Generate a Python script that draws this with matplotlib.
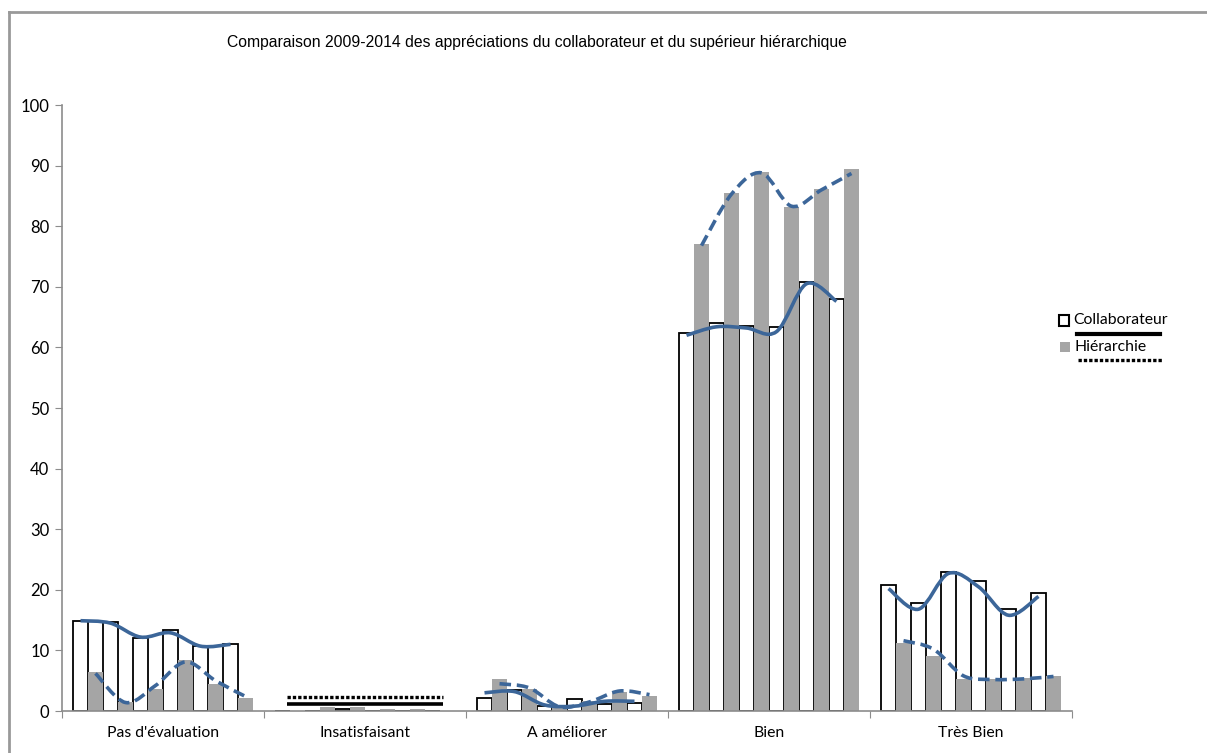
import matplotlib
matplotlib.use("Agg")
import matplotlib.pyplot as plt
from matplotlib.path import Path
from matplotlib.patches import PathPatch, Rectangle
from matplotlib.lines import Line2D
import numpy as np

# categories and years
categories = ["Pas d'évaluation", "Insatisfaisant", "A améliorer", "Bien", "Très Bien"]
years = [2009, 2010, 2011, 2012, 2013, 2014]

# bar values (%), one list per category, years 2009..2014
collab_pas = [14.8, 14.7, 12.0, 13.4, 10.8, 11.1]
hier_pas = [6.4, 1.5, 3.7, 8.4, 4.4, 2.2]
collab_insat = [0.0, 0.0, 0.3, 0.0, 0.0, 0.0]
hier_insat = [0.0, 0.7, 0.7, 0.25, 0.25, 0.0]
collab_amel = [2.1, 3.4, 0.9, 1.9, 1.1, 1.3]
hier_amel = [5.2, 3.7, 1.0, 1.6, 3.2, 2.5]
collab_bien = [62.4, 64.0, 63.6, 63.3, 70.8, 68.0]
hier_bien = [77.0, 85.5, 88.9, 83.2, 86.2, 89.5]
collab_tb = [20.8, 17.9, 23.0, 21.5, 16.8, 19.4]
hier_tb = [11.2, 9.0, 5.3, 5.3, 5.5, 5.8]

# smoothed curve values (as drawn over the bars)
line_collab_pas = [14.9, 14.5, 12.2, 12.9, 10.7, 11.0]
line_hier_pas = [6.2, 1.4, 4.2, 8.1, 5.0, 2.4]
line_collab_amel = [3.0, 3.2, 1.0, 0.8, 1.6, 1.6]
line_hier_amel = [4.5, 3.8, 0.7, 1.5, 3.3, 2.7]
line_collab_bien = [62.0, 63.4, 63.2, 62.6, 70.5, 67.6]
line_hier_bien = [76.8, 85.3, 88.8, 83.3, 86.0, 88.7]
line_collab_tb = [20.2, 16.8, 22.7, 20.5, 15.8, 18.9]
line_hier_tb = [11.6, 10.2, 5.8, 5.2, 5.3, 5.7]
# flat black lines on "Insatisfaisant"
insat_collab_line = 1.1
insat_hier_line = 2.3

collab = [collab_pas, collab_insat, collab_amel, collab_bien, collab_tb]
hier = [hier_pas, hier_insat, hier_amel, hier_bien, hier_tb]
lines_c = [line_collab_pas, None, line_collab_amel, line_collab_bien, line_collab_tb]
lines_h = [line_hier_pas, None, line_hier_amel, line_hier_bien, line_hier_tb]

BLUE = "#3C6699"
GRAY = "#A5A5A5"
AXC = "#8C8C8C"

fig = plt.figure(figsize=(12.07, 7.53), dpi=100)
ax = fig.add_axes([62 / 1207, 1 - 711 / 753, 1010 / 1207, 606 / 753])

n = len(years)
off = 0.0545
bw = (1 - 2 * off) / (2 * n)


def smooth(x, y):
    # Catmull-Rom as cubic bezier (Excel-like smoothed line)
    pts = np.column_stack([x, y])
    verts = [pts[0]]
    codes = [Path.MOVETO]
    for i in range(len(pts) - 1):
        p0 = pts[max(i - 1, 0)]
        p1 = pts[i]
        p2 = pts[i + 1]
        p3 = pts[min(i + 2, len(pts) - 1)]
        verts += [p1 + (p2 - p0) / 6, p2 - (p3 - p1) / 6, p2]
        codes += [Path.CURVE4] * 3
    return Path(verts, codes)


for c in range(len(categories)):
    xc = c + off + bw * (2 * np.arange(n) + 0.5)
    xh = c + off + bw * (2 * np.arange(n) + 1.5)
    ax.bar(xc, collab[c], width=bw, color="white", edgecolor="black", linewidth=1.3, zorder=2)
    ax.bar(xh, hier[c], width=bw, color=GRAY, edgecolor="none", zorder=2)
    if lines_c[c] is not None:
        ax.add_patch(PathPatch(smooth(xc, lines_c[c]), fill=False, edgecolor=BLUE,
                               linewidth=2.6, capstyle="butt", zorder=3))
        ax.add_patch(PathPatch(smooth(xh, lines_h[c]), fill=False, edgecolor=BLUE,
                               linewidth=2.6, linestyle=(0, (3.2, 1.6)), capstyle="butt", zorder=3))
    else:
        ax.hlines(insat_collab_line, xc[0] + 0.02, xh[-1] - 0.02, color="black", linewidth=2.6, zorder=3)
        ax.hlines(insat_hier_line, xc[0] + 0.02, xh[-1] - 0.02, color="black", linewidth=2.4,
                  linestyle=(0, (1, 0.6)), zorder=3)

ax.set_xlim(0, len(categories))
ax.set_ylim(0, 100)
ax.set_yticks(range(0, 101, 10))
ax.set_xticks(range(len(categories) + 1))
ax.set_xticklabels([])
ax.set_xticks(np.arange(len(categories)) + 0.5, minor=True)
ax.set_xticklabels(categories, minor=True, fontsize=11.3, family=["Lato", "DejaVu Sans"])
ax.tick_params(axis="x", which="minor", length=0, pad=11)
ax.tick_params(axis="x", which="major", direction="out", length=5, color=AXC)
ax.tick_params(axis="y", direction="out", length=5, color=AXC, labelsize=12, pad=4)
for lab in ax.get_yticklabels():
    lab.set_family(["Lato", "DejaVu Sans"])
for s in ["top", "right"]:
    ax.spines[s].set_visible(False)
for s in ["left", "bottom"]:
    ax.spines[s].set_color(AXC)
    ax.spines[s].set_linewidth(1.2)

fig.text(537 / 1207, 1 - 43 / 753, "Comparaison 2009-2014 des appréciations du collaborateur et du supérieur hiérarchique",
         ha="center", va="center", fontsize=11.3, family=["Liberation Sans", "DejaVu Sans"])

# legend drawn beside the plot area
lg_font = ["Lato", "DejaVu Sans"]
fig.add_artist(Rectangle((1059 / 1207, 1 - 326 / 753), 10 / 1207, 11 / 753, facecolor="white",
                         edgecolor="black", linewidth=1.5, transform=fig.transFigure))
fig.text(1073 / 1207, 1 - 320 / 753, "Collaborateur", va="center", fontsize=11.3, family=lg_font)
fig.add_artist(Line2D([1077 / 1207, 1160 / 1207], [1 - 334 / 753] * 2, color="black", linewidth=3,
                      transform=fig.transFigure))
fig.add_artist(Rectangle((1060 / 1207, 1 - 352 / 753), 10 / 1207, 10 / 753, facecolor=GRAY,
                         edgecolor="none", transform=fig.transFigure))
fig.text(1074 / 1207, 1 - 347 / 753, "Hiérarchie", va="center", fontsize=11.3, family=lg_font)
fig.add_artist(Line2D([1078 / 1207, 1162 / 1207], [1 - 360 / 753] * 2, color="black", linewidth=2.4,
                      linestyle=(0, (1, 0.6)), transform=fig.transFigure))

# outer frame (top and left edges visible)
fig.add_artist(Line2D([9 / 1207, 1], [1 - 12 / 753] * 2, color="#999999", linewidth=2,
                      transform=fig.transFigure))
fig.add_artist(Line2D([9 / 1207] * 2, [0, 1 - 12 / 753], color="#999999", linewidth=2,
                      transform=fig.transFigure))

fig.savefig("out.png", dpi=100)
